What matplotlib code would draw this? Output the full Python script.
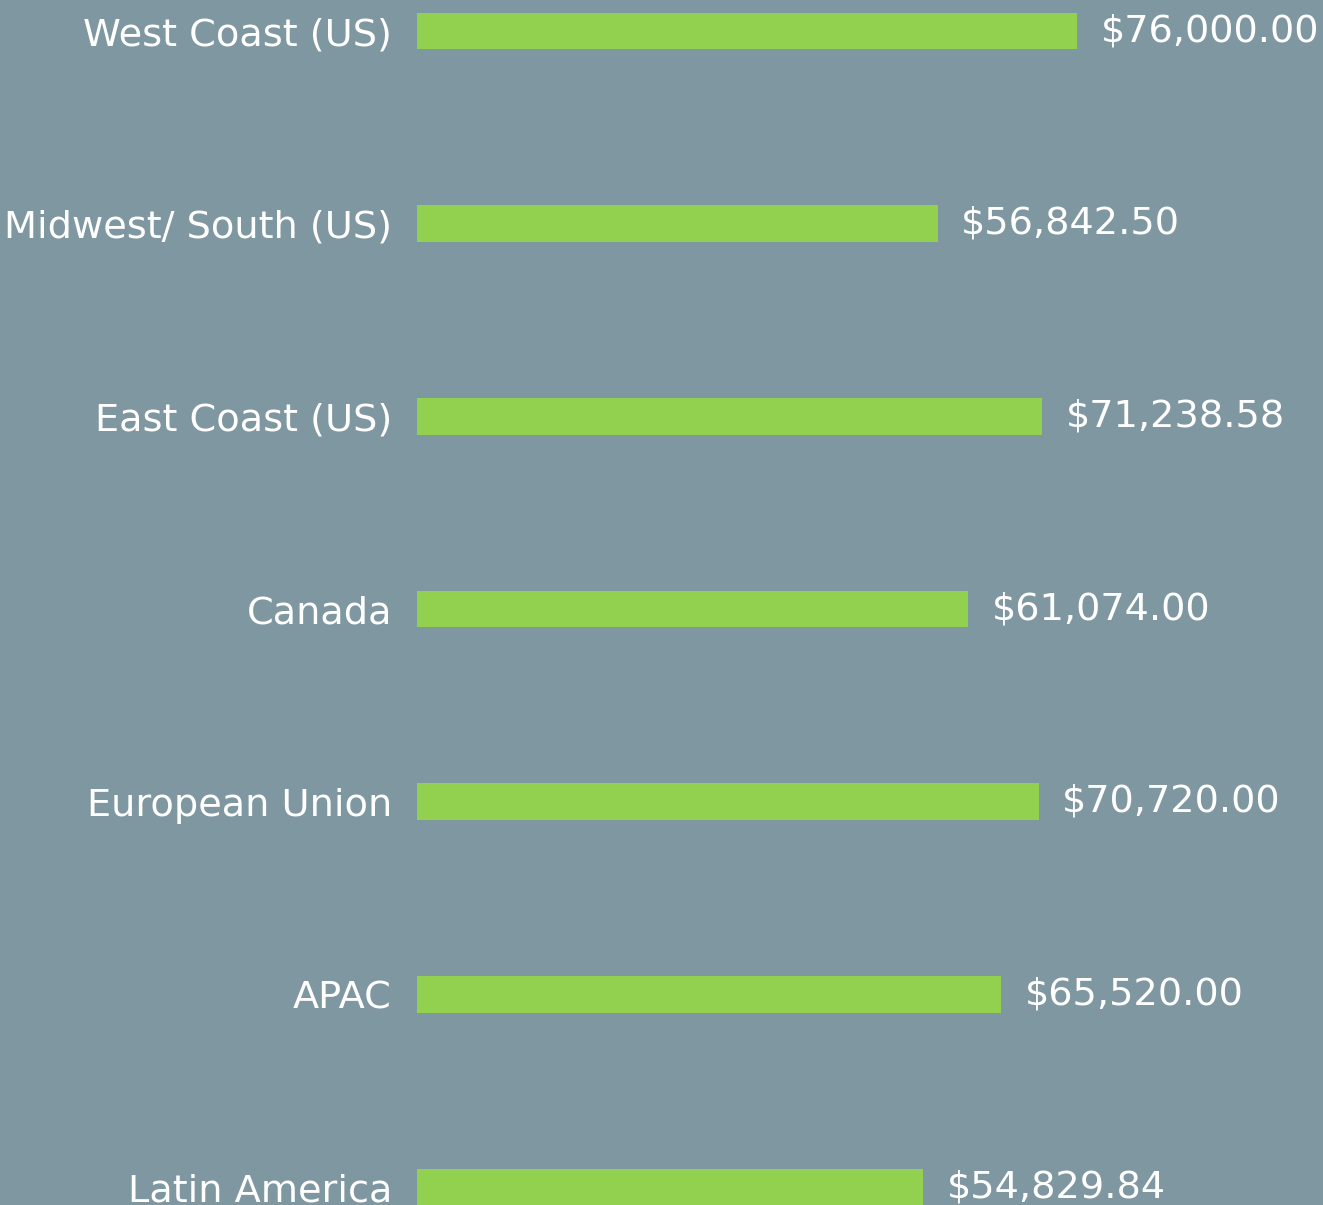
import matplotlib.pyplot as plt

regions = ["West Coast (US)", "Midwest/ South (US)", "East Coast (US)", "Canada",
           "European Union", "APAC", "Latin America"]
salaries = [76000.00, 56842.50, 71238.58, 61074.00, 70720.00, 65520.00, 54829.84]
value_labels = ["$76,000.00", "$56,842.50", "$71,238.58", "$61,074.00",
                "$70,720.00", "$65,520.00", "$54,829.84"]

bg = "#7f97a0"
green = "#92d050"
baseline = -14700

fig = plt.figure(figsize=(13.23, 12.05), dpi=100, facecolor=bg)
ax = fig.add_axes([417 / 1323, 0, 906 / 1323, 1])
ax.set_facecolor(bg)

ypos = list(range(len(regions)))
ax.barh(ypos, [v - baseline for v in salaries], left=baseline, height=0.19,
        color=green)

ax.set_xlim(baseline, 109800)
ax.set_ylim(6.093, -0.161)

ax.set_yticks(ypos)
ax.set_yticklabels(regions, fontsize=27.5, color="white")
ax.tick_params(axis="y", length=0, pad=18)
ax.set_xticks([])
for s in ax.spines.values():
    s.set_visible(False)

for y, v, lab in zip(ypos, salaries, value_labels):
    ax.annotate(lab, (v, y), xytext=(17, 0), textcoords="offset points",
                va="center", ha="left", fontsize=27.5, color="white",
                annotation_clip=False)

fig.savefig("out.png", dpi=100, facecolor=bg)
